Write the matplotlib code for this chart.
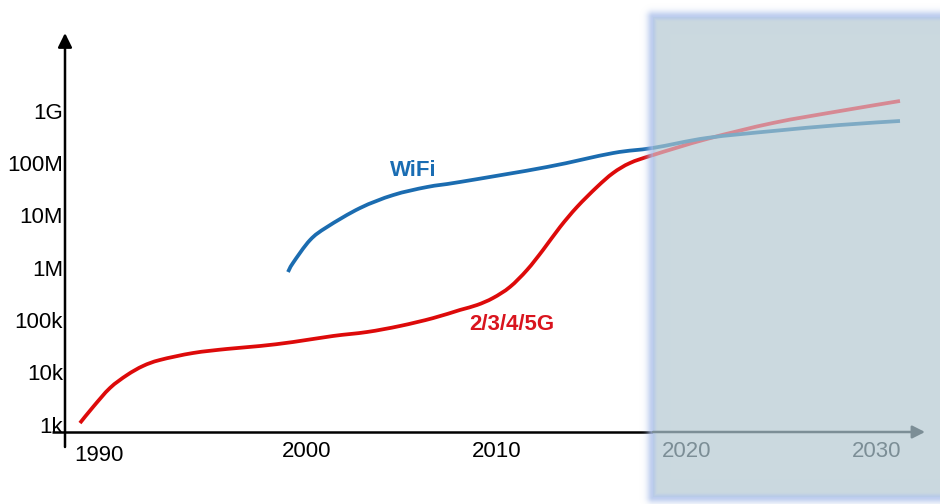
import numpy as np
import matplotlib
matplotlib.use("Agg")
import matplotlib.pyplot as plt
from matplotlib.patches import Rectangle, PathPatch
from matplotlib.path import Path

plt.rcParams['font.family'] = ['Liberation Sans', 'DejaVu Sans']

# ---- data: peak rate (bit/s) over the years ----
cell_years = [1988.05, 1988.74, 1989.63, 1990.53, 1991.37, 1992.26, 1994.0, 1995.79,
              1997.53, 1999.26, 2001.37, 2003.16, 2004.89, 2006.63, 2008.05, 2008.95,
              2009.79, 2010.68, 2011.58, 2012.42, 2013.32, 2014.21, 2015.26, 2016.11,
              2017.0, 2018.21, 2021.05, 2024.53, 2028.05, 2031.21]
cell_rate = [1.08e3, 2.19e3, 5.05e3, 8.93e3, 1.33e4, 1.73e4, 2.35e4, 2.81e4,
             3.2e4, 3.81e4, 4.97e4, 5.92e4, 7.71e4, 1.09e5, 1.56e5, 1.94e5,
             2.64e5, 4.29e5, 9.06e5, 2.18e6, 6.0e6, 1.445e7, 3.48e7, 6.44e7,
             1.0e8, 1.42e8, 2.88e8, 5.82e8, 9.84e8, 1.53e9]

wifi_years = [1999.0, 1999.26, 2000.16, 2001.05, 2002.79, 2004.53, 2006.32, 2008.05,
              2012.63, 2016.11, 2018.21, 2021.05, 2024.53, 2028.05, 2031.21]
wifi_rate = [8.28e5, 1.23e6, 3.38e6, 5.98e6, 1.38e7, 2.44e7, 3.48e7, 4.34e7,
             8.39e7, 1.55e8, 1.94e8, 3.01e8, 4.09e8, 5.32e8, 6.35e8]

y_ticks = [1e3, 1e4, 1e5, 1e6, 1e7, 1e8, 1e9]
y_tick_labels = ['1k', '10k', '100k', '1M', '10M', '100M', '1G']
past_years = [2000, 2010]
future_years = [2020, 2030]

RED = '#dd0a0a'
BLUE = '#1b6cb0'
RED_FADED = '#d68993'
BLUE_FADED = '#7eaac4'
GREY = '#7c8e96'
FS = 16


def smooth_path(years, rates):
    """Catmull-Rom style Bezier path through the points (in year / log-rate space)."""
    x = np.asarray(years, float)
    y = np.log10(np.asarray(rates, float))
    n = len(x)
    verts = [(x[0], y[0])]
    codes = [Path.MOVETO]
    for i in range(n - 1):
        p0 = np.array([x[max(i - 1, 0)], y[max(i - 1, 0)]])
        p1 = np.array([x[i], y[i]])
        p2 = np.array([x[i + 1], y[i + 1]])
        p3 = np.array([x[min(i + 2, n - 1)], y[min(i + 2, n - 1)]])
        c1 = p1 + (p2 - p0) / 6.0
        c2 = p2 - (p3 - p1) / 6.0
        verts += [tuple(c1), tuple(c2), tuple(p2)]
        codes += [Path.CURVE4] * 3
    v = np.array(verts)
    v[:, 1] = 10 ** v[:, 1]
    return Path(v, codes)


W, H = 940, 504
fig = plt.figure(figsize=(W / 100, H / 100), dpi=100)

rect = [65 / W, (H - 432) / H, (925 - 65) / W, (432 - 33) / H]
xlim = (1987.263, 2032.526)
ylim = (10 ** 2.8625, 10 ** 10.483)

# main data axes
ax = fig.add_axes(rect)
ax.set_zorder(1)
ax.set_yscale('log')
ax.set_xlim(*xlim)
ax.set_ylim(*ylim)
for s in ax.spines.values():
    s.set_visible(False)
for yrs, vals, col in [(cell_years, cell_rate, RED), (wifi_years, wifi_rate, BLUE)]:
    ax.add_patch(PathPatch(smooth_path(yrs, vals), facecolor='none',
                           edgecolor=col, lw=2.7, capstyle='butt'))
ax.set_yticks(y_ticks)
ax.set_yticklabels(y_tick_labels)
ax.minorticks_off()
ax.set_xticks(past_years)
ax.set_xticklabels([str(y) for y in past_years])
ax.tick_params(axis='y', length=0, pad=1.5, labelsize=FS)
ax.tick_params(axis='x', length=0, pad=6.5, labelsize=FS)
ax.annotate('1990', xy=(1990, 0), xycoords=('data', 'axes fraction'),
            xytext=(-13, -9.5), textcoords='offset points',
            ha='center', va='top', fontsize=FS)
ax.text(2005.58, 7.35e7, 'WiFi', color='#1a6db3', fontsize=16,
        fontweight='bold', ha='center', va='center')
ax.text(2010.79, 8.4e4, '2/3/4/5G', color='#d9141e', fontsize=16,
        fontweight='bold', ha='center', va='center')

# overlay in pixel coordinates: axes arrows and the "future" panel
ov = fig.add_axes([0, 0, 1, 1])
ov.set_zorder(2)
ov.axis('off')
ov.patch.set_visible(False)

ov.annotate('', xy=(65, 33), xytext=(65, 447),
            arrowprops=dict(arrowstyle='-|>,head_length=0.85,head_width=0.42',
                            color='black', lw=1.8, shrinkA=0, shrinkB=0,
                            mutation_scale=10))
ov.plot([52, 653], [432, 432], color='black', lw=1.8, zorder=1,
        solid_capstyle='butt')

# panel with soft blue glow
px0, px1 = 600, 960
left, top, bottom = 653, 17, 497
xs = np.arange(px0, px1) + 0.5
ys = np.arange(0, H) + 0.5
X, Y = np.meshgrid(xs, ys)
dx = np.clip(left - X, 0, None)
dy = np.maximum(np.clip(top - Y, 0, None), np.clip(Y - bottom, 0, None))
d = np.hypot(dx, dy)
inside = (X >= left) & (Y >= top) & (Y <= bottom)
e = np.minimum(np.minimum(X - left, Y - top), bottom - Y)
base = np.array([203, 217, 223]) / 255
edge = np.array([178, 198, 234]) / 255
glow = np.array([172, 192, 234]) / 255
img = np.zeros((H, px1 - px0, 4))
w_in = 0.75 * np.exp(-(np.clip(e, 0, None) / 3.0) ** 2)
img[..., :3] = np.where(inside[..., None],
                        base * (1 - w_in[..., None]) + edge * w_in[..., None],
                        glow)
img[..., 3] = np.where(inside, 1.0, 0.8 * np.exp(-(d / 6.0) ** 2))
ov.imshow(img, extent=(px0, px1, H, 0), origin='upper',
          interpolation='nearest', zorder=2, aspect='auto')
ov.set_xlim(0, W)
ov.set_ylim(H, 0)

ov.annotate('', xy=(925, 432), xytext=(653, 432),
            arrowprops=dict(arrowstyle='-|>,head_length=0.75,head_width=0.38',
                            color=GREY, lw=1.8, shrinkA=0, shrinkB=0,
                            mutation_scale=10), zorder=3)

panel_clip = Rectangle((left, top), 400, bottom - top, transform=ov.transData)

# faded projections drawn over the panel
axt = fig.add_axes(rect)
axt.set_zorder(3)
axt.set_yscale('log')
axt.set_xlim(*xlim)
axt.set_ylim(*ylim)
axt.patch.set_visible(False)
for s in axt.spines.values():
    s.set_visible(False)
for yrs, vals, col in [(cell_years, cell_rate, RED_FADED),
                       (wifi_years, wifi_rate, BLUE_FADED)]:
    pp = axt.add_patch(PathPatch(smooth_path(yrs, vals), facecolor='none',
                                 edgecolor=col, lw=2.7, capstyle='butt'))
    pp.set_clip_path(panel_clip)
axt.set_yticks([])
axt.minorticks_off()
axt.set_xticks(future_years)
axt.set_xticklabels([str(y) for y in future_years])
axt.tick_params(axis='x', length=0, pad=6.5, labelsize=FS, labelcolor=GREY)

fig.savefig('out.png', dpi=100)
